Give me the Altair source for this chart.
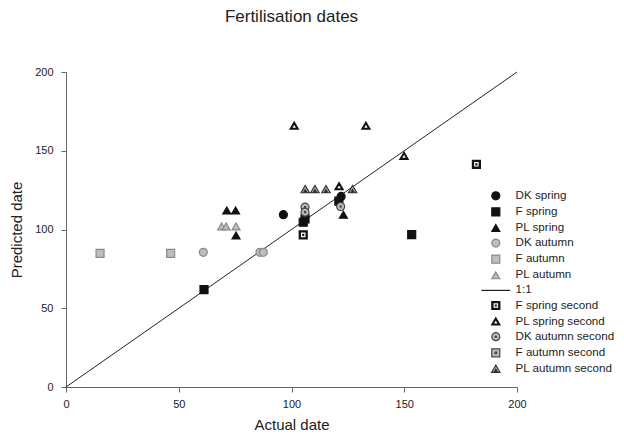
import altair as alt
import pandas as pd

# ---- data ----
series_order = [
    "DK spring", "F spring", "PL spring",
    "DK autumn", "F autumn", "PL autumn",
    "1:1",
    "F spring second", "PL spring second", "DK autumn second",
    "F autumn second", "PL autumn second",
]

dk_spring_x = [96.4, 122.0]
dk_spring_y = [109.4, 121.0]
f_spring_x = [61.2, 105.2, 106.0, 121.0, 153.3]
f_spring_y = [61.8, 104.6, 106.8, 118.0, 96.8]
pl_spring_x = [71.3, 75.2, 75.4, 123.0]
pl_spring_y = [112.1, 112.1, 96.2, 109.4]
dk_autumn_x = [60.9, 86.0, 87.5]
dk_autumn_y = [85.5, 85.5, 85.5]
f_autumn_x = [15.1, 46.4]
f_autumn_y = [84.9, 84.9]
pl_autumn_x = [69.0, 71.0, 75.4]
pl_autumn_y = [101.9, 101.9, 101.9]
f_spring2_x = [105.2, 182.0]
f_spring2_y = [96.6, 141.4]
pl_spring2_x = [101.2, 133.0, 121.1, 149.9]
pl_spring2_y = [165.8, 165.8, 127.4, 146.7]
dk_autumn2_x = [106.0, 106.0, 121.8]
dk_autumn2_y = [114.2, 111.0, 114.6]
f_autumn2_x = []
f_autumn2_y = []
pl_autumn2_x = [106.1, 110.4, 115.3, 127.1]
pl_autumn2_y = [125.5, 125.5, 125.5, 125.5]

line_x = [0, 200]
line_y = [0, 200]
ticks = [0, 50, 100, 150, 200]

groups = [
    ("DK spring", dk_spring_x, dk_spring_y),
    ("F spring", f_spring_x, f_spring_y),
    ("PL spring", pl_spring_x, pl_spring_y),
    ("DK autumn", dk_autumn_x, dk_autumn_y),
    ("F autumn", f_autumn_x, f_autumn_y),
    ("PL autumn", pl_autumn_x, pl_autumn_y),
    ("F spring second", f_spring2_x, f_spring2_y),
    ("PL spring second", pl_spring2_x, pl_spring2_y),
    ("DK autumn second", dk_autumn2_x, dk_autumn2_y),
    ("F autumn second", f_autumn2_x, f_autumn2_y),
    ("PL autumn second", pl_autumn2_x, pl_autumn2_y),
]
rows = []
for name, xs, ys in groups:
    for a, b in zip(xs, ys):
        rows.append({"series": name, "actual": a, "predicted": b})
points = pd.DataFrame(rows)
line_df = pd.DataFrame({"actual": line_x, "predicted": line_y})

# ---- styles ----
sq_dot = "M-1,-1L1,-1L1,1L-1,1Z M-0.72,-0.72L0.72,-0.72L0.72,0.72L-0.72,0.72Z M-0.12,-0.12L0.12,-0.12L0.12,0.12L-0.12,0.12Z"
tri_open = "M0,-0.95L1.05,0.85L-1.05,0.85Z M0,-0.55L0.7,0.62L-0.7,0.62Z"
circ_dot = "M1,0A1,1 0 1,1 -1,0A1,1 0 1,1 1,0Z M0.18,0A0.18,0.18 0 1,1 -0.18,0A0.18,0.18 0 1,1 0.18,0Z"
sq_grey_dot = "M-1,-1L1,-1L1,1L-1,1Z M-0.2,-0.2L0.2,-0.2L0.2,0.2L-0.2,0.2Z"
tri_grey_dot = "M0,-0.95L1.05,0.85L-1.05,0.85Z M0,0.05L0.3,0.55L-0.3,0.55Z"
line_sym = "M-3.6,0L3.6,0"

shape_range = ["circle", "square", "triangle-up",
               "circle", "square", "triangle-up",
               line_sym,
               sq_dot, tri_open, circ_dot, sq_grey_dot, tri_grey_dot]
grey = "#bdbdbd"
fill_range = ["#111111", "#111111", "#111111",
              grey, grey, grey,
              "transparent",
              "#ffffff", "#ffffff", grey, grey, grey]
stroke_range = ["#111111", "#111111", "#111111",
                "#8a8a8a", "#8a8a8a", "#8a8a8a",
                "#222222",
                "#111111", "#111111", "#444444", "#444444", "#333333"]

legend = alt.Legend(title=None, orient="none", legendX=424, legendY=118)

xscale = alt.Scale(domain=[0, 200], nice=False)
yscale = alt.Scale(domain=[0, 200], nice=False)

x_axis = alt.Axis(values=ticks, title="Actual date", grid=False, tickSize=5,
                  labelFlush=False, labelPadding=6,
                  titleY=42, titleBaseline="alphabetic")
y_axis = alt.Axis(values=ticks, title="Predicted date", grid=False, tickSize=5,
                  labelFlush=False, labelPadding=8,
                  titleX=-50, titleBaseline="middle")

line = alt.Chart(line_df).mark_line(color="#222222", strokeWidth=1).encode(
    x=alt.X("actual:Q", scale=xscale, axis=x_axis),
    y=alt.Y("predicted:Q", scale=yscale, axis=y_axis),
)

pts = alt.Chart(points).mark_point(filled=True, size=64, opacity=1, strokeWidth=1.2).encode(
    x=alt.X("actual:Q", scale=xscale, axis=x_axis),
    y=alt.Y("predicted:Q", scale=yscale, axis=y_axis),
    shape=alt.Shape("series:N", scale=alt.Scale(domain=series_order, range=shape_range), legend=legend),
    fill=alt.Fill("series:N", scale=alt.Scale(domain=series_order, range=fill_range), legend=legend),
    stroke=alt.Stroke("series:N", scale=alt.Scale(domain=series_order, range=stroke_range), legend=legend),
)

chart = alt.layer(line, pts).properties(
    width=451,
    height=315,
    autosize=alt.AutoSizeParams(type="none"),
    padding={"left": 58, "top": 64, "right": 99, "bottom": 44},
    title=alt.TitleParams("Fertilisation dates", anchor="middle", fontSize=17,
                          font="Liberation Sans", fontWeight="normal", color="#222222", offset=40),
).configure_view(stroke=None).configure_axis(
    domainColor="#666666", tickColor="#666666", labelColor="#222222",
    labelFont="Liberation Sans", labelFontSize=11,
    titleFont="Liberation Sans", titleFontSize=15, titleFontWeight="normal", titleColor="#222222",
).configure_legend(
    labelFont="Liberation Sans", labelFontSize=11.6, labelColor="#222222",
    symbolSize=64, symbolStrokeWidth=1.2, symbolOpacity=1, labelOffset=14,
    rowPadding=2.1, padding=0,
)

chart.save("out.html", embed_options={"renderer": "svg", "actions": False})
